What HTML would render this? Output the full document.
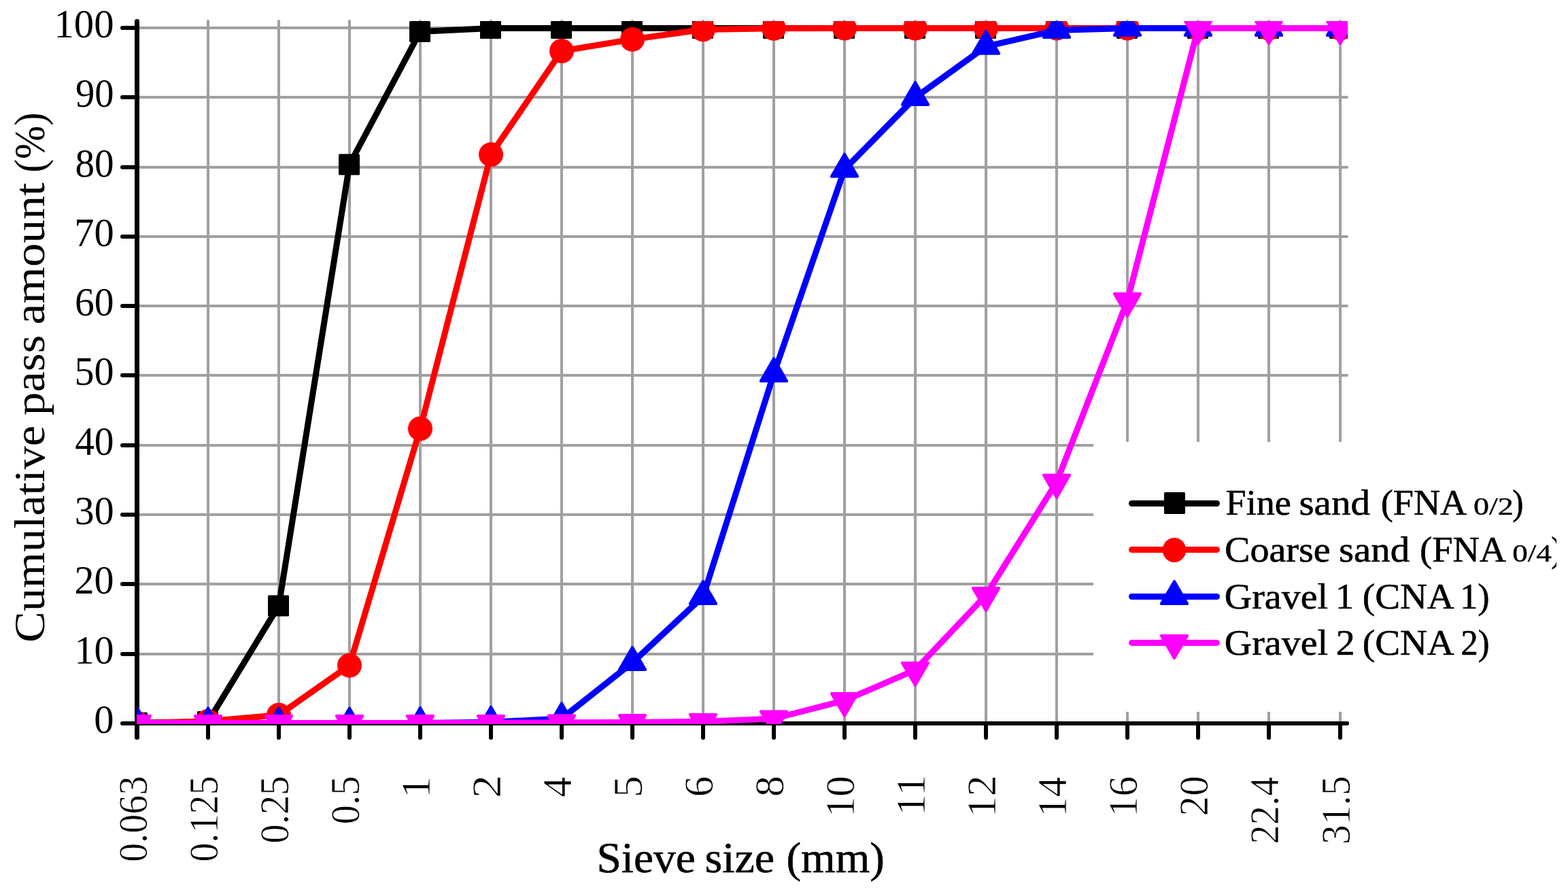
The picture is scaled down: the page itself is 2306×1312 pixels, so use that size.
<!DOCTYPE html>
<html lang="en"><head><meta charset="utf-8"><title>Sieve size distribution</title>
<style>html,body{margin:0;padding:0;background:#fff}body{width:2306px;height:1312px;overflow:hidden}svg{display:block}text{font-family:"Liberation Serif","DejaVu Serif",serif;fill:#000;white-space:pre;stroke-linejoin:round}</style>
</head><body>
<svg width="2306" height="1312" viewBox="0 0 2306 1312">
<defs><clipPath id="pc"><rect x="201" y="31" width="1781" height="1034"/></clipPath><clipPath id="lc"><rect x="1608" y="650" width="681" height="397"/></clipPath></defs>
<rect width="2306" height="1312" fill="#fff"/>
<g stroke="#a0a0a0" stroke-width="4" stroke-linecap="round" fill="none"><line x1="306" y1="31" x2="306" y2="1062"/><line x1="410" y1="31" x2="410" y2="1062"/><line x1="514" y1="31" x2="514" y2="1062"/><line x1="618" y1="31" x2="618" y2="1062"/><line x1="722" y1="31" x2="722" y2="1062"/><line x1="826" y1="31" x2="826" y2="1062"/><line x1="930" y1="31" x2="930" y2="1062"/><line x1="1034" y1="31" x2="1034" y2="1062"/><line x1="1138" y1="31" x2="1138" y2="1062"/><line x1="1242" y1="31" x2="1242" y2="1062"/><line x1="1346" y1="31" x2="1346" y2="1062"/><line x1="1450" y1="31" x2="1450" y2="1062"/><line x1="1554" y1="31" x2="1554" y2="1062"/><line x1="1658" y1="31" x2="1658" y2="1062"/><line x1="1762" y1="31" x2="1762" y2="1062"/><line x1="1866" y1="31" x2="1866" y2="1062"/><line x1="1971" y1="31" x2="1971" y2="1062"/><line x1="203" y1="962" x2="1981" y2="962"/><line x1="203" y1="859" x2="1981" y2="859"/><line x1="203" y1="757" x2="1981" y2="757"/><line x1="203" y1="655" x2="1981" y2="655"/><line x1="203" y1="552" x2="1981" y2="552"/><line x1="203" y1="450" x2="1981" y2="450"/><line x1="203" y1="348" x2="1981" y2="348"/><line x1="203" y1="246" x2="1981" y2="246"/><line x1="203" y1="143" x2="1981" y2="143"/><line x1="203" y1="41" x2="1981" y2="41"/></g>
<g stroke="#000" stroke-linecap="round" fill="none"><line x1="201.5" y1="31.5" x2="201.5" y2="1064" stroke-width="7"/><line x1="201" y1="1064" x2="1981" y2="1064" stroke-width="6"/><line x1="180" y1="1064" x2="200" y2="1064" stroke-width="6"/><line x1="180" y1="962" x2="200" y2="962" stroke-width="6"/><line x1="180" y1="859" x2="200" y2="859" stroke-width="6"/><line x1="180" y1="757" x2="200" y2="757" stroke-width="6"/><line x1="180" y1="655" x2="200" y2="655" stroke-width="6"/><line x1="180" y1="552" x2="200" y2="552" stroke-width="6"/><line x1="180" y1="450" x2="200" y2="450" stroke-width="6"/><line x1="180" y1="348" x2="200" y2="348" stroke-width="6"/><line x1="180" y1="246" x2="200" y2="246" stroke-width="6"/><line x1="180" y1="143" x2="200" y2="143" stroke-width="6"/><line x1="180" y1="41" x2="200" y2="41" stroke-width="6"/><line x1="201.5" y1="1064" x2="201.5" y2="1084.5" stroke-width="7"/><line x1="306" y1="1064" x2="306" y2="1085" stroke-width="6"/><line x1="410" y1="1064" x2="410" y2="1085" stroke-width="6"/><line x1="514" y1="1064" x2="514" y2="1085" stroke-width="6"/><line x1="618" y1="1064" x2="618" y2="1085" stroke-width="6"/><line x1="722" y1="1064" x2="722" y2="1085" stroke-width="6"/><line x1="826" y1="1064" x2="826" y2="1085" stroke-width="6"/><line x1="930" y1="1064" x2="930" y2="1085" stroke-width="6"/><line x1="1034" y1="1064" x2="1034" y2="1085" stroke-width="6"/><line x1="1138" y1="1064" x2="1138" y2="1085" stroke-width="6"/><line x1="1242" y1="1064" x2="1242" y2="1085" stroke-width="6"/><line x1="1346" y1="1064" x2="1346" y2="1085" stroke-width="6"/><line x1="1450" y1="1064" x2="1450" y2="1085" stroke-width="6"/><line x1="1554" y1="1064" x2="1554" y2="1085" stroke-width="6"/><line x1="1658" y1="1064" x2="1658" y2="1085" stroke-width="6"/><line x1="1762" y1="1064" x2="1762" y2="1085" stroke-width="6"/><line x1="1866" y1="1064" x2="1866" y2="1085" stroke-width="6"/><line x1="1971" y1="1064" x2="1971" y2="1085" stroke-width="6"/></g>
<g clip-path="url(#pc)"><polyline points="202,1063.3 306,1061.5 410,891 514,242 618,46.5 722,41.5 826,41.5 930,41.5 1034,41.5 1138,41.5 1242,41.5 1346,41.5 1450,41.5 1554,41.5 1658,41.5 1762,41.5 1866,41.5 1971,41.5" fill="none" stroke="#000000" stroke-width="9" stroke-linejoin="round" stroke-linecap="butt"/><rect x="186" y="1047.8" width="31" height="31" rx="1.5" fill="#000000"/><rect x="290" y="1046" width="31" height="31" rx="1.5" fill="#000000"/><rect x="394" y="875.5" width="31" height="31" rx="1.5" fill="#000000"/><rect x="498" y="226.5" width="31" height="31" rx="1.5" fill="#000000"/><rect x="602" y="31" width="31" height="31" rx="1.5" fill="#000000"/><rect x="706" y="26" width="31" height="31" rx="1.5" fill="#000000"/><rect x="810" y="26" width="31" height="31" rx="1.5" fill="#000000"/><rect x="914" y="26" width="31" height="31" rx="1.5" fill="#000000"/><rect x="1018" y="26" width="31" height="31" rx="1.5" fill="#000000"/><rect x="1122" y="26" width="31" height="31" rx="1.5" fill="#000000"/><rect x="1226" y="26" width="31" height="31" rx="1.5" fill="#000000"/><rect x="1330" y="26" width="31" height="31" rx="1.5" fill="#000000"/><rect x="1434" y="26" width="31" height="31" rx="1.5" fill="#000000"/><rect x="1538" y="26" width="31" height="31" rx="1.5" fill="#000000"/><rect x="1642" y="26" width="31" height="31" rx="1.5" fill="#000000"/><rect x="1746" y="26" width="31" height="31" rx="1.5" fill="#000000"/><rect x="1850" y="26" width="31" height="31" rx="1.5" fill="#000000"/><rect x="1955" y="26" width="31" height="31" rx="1.5" fill="#000000"/><polyline points="202,1063.8 306,1060.8 410,1051.7 514,978.7 618,630.5 722,227.3 826,75 930,57.9 1034,43.4 1138,41.8 1242,41.5 1346,41.5 1450,41.5 1554,41.5 1658,41.5 1762,41.5 1866,41.5 1971,41.5" fill="none" stroke="#ff0000" stroke-width="9" stroke-linejoin="round" stroke-linecap="butt"/><circle cx="202" cy="1063.8" r="18" fill="#ff0000"/><circle cx="306" cy="1060.8" r="18" fill="#ff0000"/><circle cx="410" cy="1051.7" r="18" fill="#ff0000"/><circle cx="514" cy="978.7" r="18" fill="#ff0000"/><circle cx="618" cy="630.5" r="18" fill="#ff0000"/><circle cx="722" cy="227.3" r="18" fill="#ff0000"/><circle cx="826" cy="75" r="18" fill="#ff0000"/><circle cx="930" cy="57.9" r="18" fill="#ff0000"/><circle cx="1034" cy="43.4" r="18" fill="#ff0000"/><circle cx="1138" cy="41.8" r="18" fill="#ff0000"/><circle cx="1242" cy="41.5" r="18" fill="#ff0000"/><circle cx="1346" cy="41.5" r="18" fill="#ff0000"/><circle cx="1450" cy="41.5" r="18" fill="#ff0000"/><circle cx="1554" cy="41.5" r="18" fill="#ff0000"/><circle cx="1658" cy="41.5" r="18" fill="#ff0000"/><circle cx="1762" cy="41.5" r="18" fill="#ff0000"/><circle cx="1866" cy="41.5" r="18" fill="#ff0000"/><circle cx="1971" cy="41.5" r="18" fill="#ff0000"/><polyline points="202,1064 306,1064 410,1064 514,1064 618,1063.5 722,1062.3 826,1056.9 930,974.6 1034,877.6 1138,549.9 1242,249.1 1346,143.5 1450,68.3 1554,44.4 1658,41.5 1762,41.5 1866,41.5 1971,41.5" fill="none" stroke="#0000ff" stroke-width="9" stroke-linejoin="round" stroke-linecap="butt"/><polygon points="182.85,1074.5 221.15,1074.5 202,1041.4" fill="#0000ff" stroke="#0000ff" stroke-width="4" stroke-linejoin="round"/><polygon points="286.85,1074.5 325.15,1074.5 306,1041.4" fill="#0000ff" stroke="#0000ff" stroke-width="4" stroke-linejoin="round"/><polygon points="390.85,1074.5 429.15,1074.5 410,1041.4" fill="#0000ff" stroke="#0000ff" stroke-width="4" stroke-linejoin="round"/><polygon points="494.85,1074.5 533.15,1074.5 514,1041.4" fill="#0000ff" stroke="#0000ff" stroke-width="4" stroke-linejoin="round"/><polygon points="598.85,1074 637.15,1074 618,1040.9" fill="#0000ff" stroke="#0000ff" stroke-width="4" stroke-linejoin="round"/><polygon points="702.85,1072.8 741.15,1072.8 722,1039.7" fill="#0000ff" stroke="#0000ff" stroke-width="4" stroke-linejoin="round"/><polygon points="806.85,1067.4 845.15,1067.4 826,1034.3" fill="#0000ff" stroke="#0000ff" stroke-width="4" stroke-linejoin="round"/><polygon points="910.85,985.1 949.15,985.1 930,952" fill="#0000ff" stroke="#0000ff" stroke-width="4" stroke-linejoin="round"/><polygon points="1014.85,888.1 1053.15,888.1 1034,855" fill="#0000ff" stroke="#0000ff" stroke-width="4" stroke-linejoin="round"/><polygon points="1118.85,560.4 1157.15,560.4 1138,527.3" fill="#0000ff" stroke="#0000ff" stroke-width="4" stroke-linejoin="round"/><polygon points="1222.85,259.6 1261.15,259.6 1242,226.5" fill="#0000ff" stroke="#0000ff" stroke-width="4" stroke-linejoin="round"/><polygon points="1326.85,154 1365.15,154 1346,120.9" fill="#0000ff" stroke="#0000ff" stroke-width="4" stroke-linejoin="round"/><polygon points="1430.85,78.8 1469.15,78.8 1450,45.7" fill="#0000ff" stroke="#0000ff" stroke-width="4" stroke-linejoin="round"/><polygon points="1534.85,54.9 1573.15,54.9 1554,21.8" fill="#0000ff" stroke="#0000ff" stroke-width="4" stroke-linejoin="round"/><polygon points="1638.85,52 1677.15,52 1658,18.9" fill="#0000ff" stroke="#0000ff" stroke-width="4" stroke-linejoin="round"/><polygon points="1742.85,52 1781.15,52 1762,18.9" fill="#0000ff" stroke="#0000ff" stroke-width="4" stroke-linejoin="round"/><polygon points="1846.85,52 1885.15,52 1866,18.9" fill="#0000ff" stroke="#0000ff" stroke-width="4" stroke-linejoin="round"/><polygon points="1951.85,52 1990.15,52 1971,18.9" fill="#0000ff" stroke="#0000ff" stroke-width="4" stroke-linejoin="round"/><polyline points="202,1063.5 306,1063.5 410,1063.5 514,1063.5 618,1063.5 722,1063.5 826,1062.8 930,1062.5 1034,1061.4 1138,1057 1242,1030.4 1346,985.4 1450,875.5 1554,709.2 1658,442.3 1762,41.5 1866,41.5 1971,41.5" fill="none" stroke="#ff00ff" stroke-width="9" stroke-linejoin="round" stroke-linecap="butt"/><polygon points="182.85,1053.1 221.15,1053.1 202,1086.2" fill="#ff00ff" stroke="#ff00ff" stroke-width="4" stroke-linejoin="round"/><polygon points="286.85,1053.1 325.15,1053.1 306,1086.2" fill="#ff00ff" stroke="#ff00ff" stroke-width="4" stroke-linejoin="round"/><polygon points="390.85,1053.1 429.15,1053.1 410,1086.2" fill="#ff00ff" stroke="#ff00ff" stroke-width="4" stroke-linejoin="round"/><polygon points="494.85,1053.1 533.15,1053.1 514,1086.2" fill="#ff00ff" stroke="#ff00ff" stroke-width="4" stroke-linejoin="round"/><polygon points="598.85,1053.1 637.15,1053.1 618,1086.2" fill="#ff00ff" stroke="#ff00ff" stroke-width="4" stroke-linejoin="round"/><polygon points="702.85,1053.1 741.15,1053.1 722,1086.2" fill="#ff00ff" stroke="#ff00ff" stroke-width="4" stroke-linejoin="round"/><polygon points="806.85,1052.4 845.15,1052.4 826,1085.5" fill="#ff00ff" stroke="#ff00ff" stroke-width="4" stroke-linejoin="round"/><polygon points="910.85,1052.1 949.15,1052.1 930,1085.2" fill="#ff00ff" stroke="#ff00ff" stroke-width="4" stroke-linejoin="round"/><polygon points="1014.85,1051 1053.15,1051 1034,1084.1" fill="#ff00ff" stroke="#ff00ff" stroke-width="4" stroke-linejoin="round"/><polygon points="1118.85,1046.6 1157.15,1046.6 1138,1079.7" fill="#ff00ff" stroke="#ff00ff" stroke-width="4" stroke-linejoin="round"/><polygon points="1222.85,1020 1261.15,1020 1242,1053.1" fill="#ff00ff" stroke="#ff00ff" stroke-width="4" stroke-linejoin="round"/><polygon points="1326.85,975 1365.15,975 1346,1008.1" fill="#ff00ff" stroke="#ff00ff" stroke-width="4" stroke-linejoin="round"/><polygon points="1430.85,865.1 1469.15,865.1 1450,898.2" fill="#ff00ff" stroke="#ff00ff" stroke-width="4" stroke-linejoin="round"/><polygon points="1534.85,698.8 1573.15,698.8 1554,731.9" fill="#ff00ff" stroke="#ff00ff" stroke-width="4" stroke-linejoin="round"/><polygon points="1638.85,431.9 1677.15,431.9 1658,465" fill="#ff00ff" stroke="#ff00ff" stroke-width="4" stroke-linejoin="round"/><polygon points="1742.85,31.1 1781.15,31.1 1762,64.2" fill="#ff00ff" stroke="#ff00ff" stroke-width="4" stroke-linejoin="round"/><polygon points="1846.85,31.1 1885.15,31.1 1866,64.2" fill="#ff00ff" stroke="#ff00ff" stroke-width="4" stroke-linejoin="round"/><polygon points="1951.85,31.1 1990.15,31.1 1971,64.2" fill="#ff00ff" stroke="#ff00ff" stroke-width="4" stroke-linejoin="round"/></g>
<rect x="1608" y="650" width="681" height="397" fill="#fff"/><line x1="1664.5" y1="740.5" x2="1789.5" y2="740.5" stroke="#000000" stroke-width="9" stroke-linecap="round"/><rect x="1712" y="724" width="31" height="32" rx="1.5" fill="#000000"/><line x1="1664.5" y1="808.5" x2="1789.5" y2="808.5" stroke="#ff0000" stroke-width="9" stroke-linecap="round"/><ellipse cx="1727" cy="809" rx="17.3" ry="18.1" fill="#ff0000"/><line x1="1664.5" y1="877.5" x2="1789.5" y2="877.5" stroke="#0000ff" stroke-width="9" stroke-linecap="round"/><polygon points="1707.85,888.1 1746.15,888.1 1727,855" fill="#0000ff" stroke="#0000ff" stroke-width="4" stroke-linejoin="round"/><line x1="1664.5" y1="945.5" x2="1789.5" y2="945.5" stroke="#ff00ff" stroke-width="9" stroke-linecap="round"/><polygon points="1707.85,935.1 1746.15,935.1 1727,968.2" fill="#ff00ff" stroke="#ff00ff" stroke-width="4" stroke-linejoin="round"/>
<g><text transform="translate(79.52,55.3) scale(0.9863,1)" font-size="59.5">100</text><text transform="translate(111,157.3) scale(0.9506,1)" font-size="59.5">90</text><text transform="translate(110.41,260.3) scale(0.9609,1)" font-size="59.5">80</text><text transform="translate(109.2,362.3) scale(0.9821,1)" font-size="59.5">70</text><text transform="translate(110.11,464.3) scale(0.9662,1)" font-size="59.5">60</text><text transform="translate(109.51,566.3) scale(0.9767,1)" font-size="59.5">50</text><text transform="translate(110.15,669.3) scale(0.9655,1)" font-size="59.5">40</text><text transform="translate(109.81,771.3) scale(0.9715,1)" font-size="59.5">30</text><text transform="translate(109.59,873.3) scale(0.9753,1)" font-size="59.5">20</text><text transform="translate(109.47,976.3) scale(0.9775,1)" font-size="59.5">10</text><text transform="translate(138.36,1078.3) scale(0.9844,1)" font-size="59.5">0</text></g>
<g><text transform="translate(216.05,1268.11) rotate(-90) scale(0.9323,1)" font-size="60.5" stroke="#fff" stroke-width="0.7">0.063</text><text transform="translate(320.05,1267.8) rotate(-90) scale(0.9300,1)" font-size="60.5" stroke="#fff" stroke-width="0.7">0.125</text><text transform="translate(424.05,1240.83) rotate(-90) scale(0.9413,1)" font-size="60.5" stroke="#fff" stroke-width="0.7">0.25</text><text transform="translate(528.05,1212.53) rotate(-90) scale(0.9437,1)" font-size="60.5" stroke="#fff" stroke-width="0.7">0.5</text><text transform="translate(632.05,1174.19) rotate(-90) scale(1.0720,1)" font-size="60.5" stroke="#fff" stroke-width="0.7">1</text><text transform="translate(736.05,1174.04) rotate(-90) scale(1.1364,1)" font-size="60.5" stroke="#fff" stroke-width="0.7">2</text><text transform="translate(840.05,1172.65) rotate(-90) scale(0.9953,1)" font-size="60.5" stroke="#fff" stroke-width="0.7">4</text><text transform="translate(944.05,1173) rotate(-90) scale(1.0620,1)" font-size="60.5" stroke="#fff" stroke-width="0.7">5</text><text transform="translate(1048.05,1172.31) rotate(-90) scale(1.0151,1)" font-size="60.5" stroke="#fff" stroke-width="0.7">6</text><text transform="translate(1152.05,1172.04) rotate(-90) scale(1.0272,1)" font-size="60.5" stroke="#fff" stroke-width="0.7">8</text><text transform="translate(1256.05,1202.26) rotate(-90) scale(1.0126,1)" font-size="60.5" stroke="#fff" stroke-width="0.7">10</text><text transform="translate(1360.05,1199.78) rotate(-90) scale(1.0346,1)" font-size="60.5" stroke="#fff" stroke-width="0.7">11</text><text transform="translate(1464.05,1202.36) rotate(-90) scale(1.0304,1)" font-size="60.5" stroke="#fff" stroke-width="0.7">12</text><text transform="translate(1568.05,1202.11) rotate(-90) scale(0.9843,1)" font-size="60.5" stroke="#fff" stroke-width="0.7">14</text><text transform="translate(1672.05,1201.54) rotate(-90) scale(0.9899,1)" font-size="60.5" stroke="#fff" stroke-width="0.7">16</text><text transform="translate(1776.05,1200.42) rotate(-90) scale(0.9809,1)" font-size="60.5" stroke="#fff" stroke-width="0.7">20</text><text transform="translate(1880.05,1241.39) rotate(-90) scale(0.9331,1)" font-size="60.5" stroke="#fff" stroke-width="0.7">22.4</text><text transform="translate(1985.05,1242.03) rotate(-90) scale(0.9529,1)" font-size="60.5" stroke="#fff" stroke-width="0.7">31.5</text></g>
<text transform="translate(64.6,0) rotate(-90)" font-size="62.5"><tspan x="-944.93" textLength="318.9" lengthAdjust="spacingAndGlyphs">Cumulative</tspan> <tspan x="-611.03" textLength="118.08" lengthAdjust="spacingAndGlyphs">pass</tspan> <tspan x="-477.64" textLength="208.95" lengthAdjust="spacingAndGlyphs">amount</tspan> <tspan x="-253.65" textLength="88.24" lengthAdjust="spacingAndGlyphs">(%)</tspan></text>
<text y="1283.2" font-size="62.5"><tspan x="877.5" textLength="145.3" lengthAdjust="spacingAndGlyphs" stroke="#000" stroke-width="0.6">Sieve</tspan> <tspan x="1036.56" textLength="102.53" lengthAdjust="spacingAndGlyphs" stroke="#000" stroke-width="0.6">size</tspan> <tspan x="1156.48" textLength="144.33" lengthAdjust="spacingAndGlyphs" stroke="#000" stroke-width="0.6">(mm)</tspan></text>
<g clip-path="url(#lc)">
<text y="757.3" font-size="52.2"><tspan x="1802.57" textLength="96.31" lengthAdjust="spacingAndGlyphs" stroke="#000" stroke-width="0.6">Fine</tspan> <tspan x="1910.42" textLength="104.63" lengthAdjust="spacingAndGlyphs" stroke="#000" stroke-width="0.6">sand</tspan> <tspan x="2030.72" textLength="123.53" lengthAdjust="spacingAndGlyphs" stroke="#000" stroke-width="0.6">(FNA</tspan> <tspan x="2166.96" textLength="58.8" lengthAdjust="spacingAndGlyphs" font-size="35.5" stroke="#000" stroke-width="0.4">0/2</tspan><tspan x="2224.13" textLength="16.27" lengthAdjust="spacingAndGlyphs" stroke="#000" stroke-width="0.6">)</tspan></text>
<text y="826.1" font-size="52.2"><tspan x="1800.96" textLength="155.81" lengthAdjust="spacingAndGlyphs" stroke="#000" stroke-width="0.6">Coarse</tspan> <tspan x="1969.03" textLength="104.01" lengthAdjust="spacingAndGlyphs" stroke="#000" stroke-width="0.6">sand</tspan> <tspan x="2088.01" textLength="124.15" lengthAdjust="spacingAndGlyphs" stroke="#000" stroke-width="0.6">(FNA</tspan> <tspan x="2224.19" textLength="57.71" lengthAdjust="spacingAndGlyphs" font-size="35.5" stroke="#000" stroke-width="0.4">0/4</tspan><tspan x="2281.13" textLength="16.27" lengthAdjust="spacingAndGlyphs" stroke="#000" stroke-width="0.6">)</tspan></text>
<text y="894.5" font-size="52.2"><tspan x="1800.76" textLength="152.4" lengthAdjust="spacingAndGlyphs" stroke="#000" stroke-width="0.6">Gravel</tspan> <tspan x="1963.94" textLength="27" lengthAdjust="spacingAndGlyphs" stroke="#000" stroke-width="0.6">1</tspan> <tspan x="2003.77" textLength="131.93" lengthAdjust="spacingAndGlyphs" stroke="#000" stroke-width="0.6">(CNA</tspan> <tspan x="2147.22" textLength="43.32" lengthAdjust="spacingAndGlyphs" stroke="#000" stroke-width="0.6">1)</tspan></text>
<text y="963" font-size="52.2"><tspan x="1800.76" textLength="152.4" lengthAdjust="spacingAndGlyphs" stroke="#000" stroke-width="0.6">Gravel</tspan> <tspan x="1964.88" textLength="28" lengthAdjust="spacingAndGlyphs" stroke="#000" stroke-width="0.6">2</tspan> <tspan x="2003.77" textLength="131.93" lengthAdjust="spacingAndGlyphs" stroke="#000" stroke-width="0.6">(CNA</tspan> <tspan x="2148.43" textLength="42.04" lengthAdjust="spacingAndGlyphs" stroke="#000" stroke-width="0.6">2)</tspan></text>
</g>
</svg></body></html>
